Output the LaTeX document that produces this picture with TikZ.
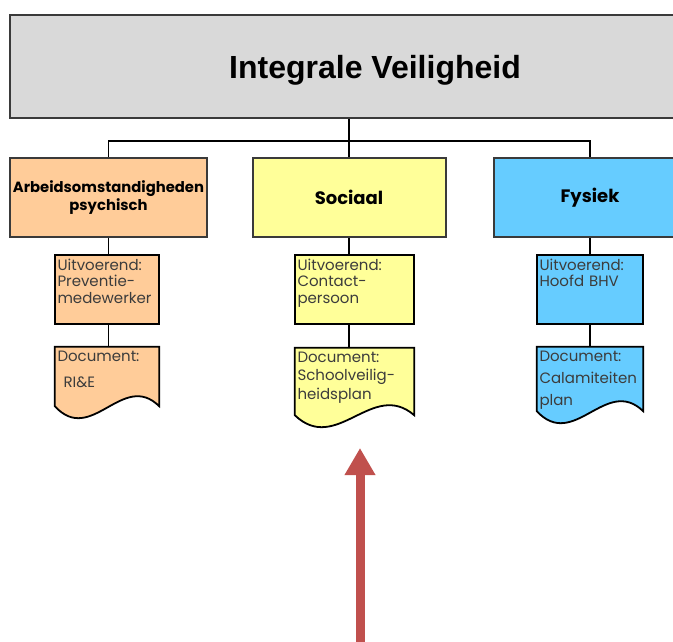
\documentclass[tikz,border=0pt]{standalone}
\usepackage{fontspec}
\setmainfont{Poppins}
\newfontfamily\titelfont{Liberation Sans}
\usetikzlibrary{positioning,calc,backgrounds,arrows.meta}
\definecolor{grijs}{HTML}{D9D9D9}
\definecolor{oranje}{HTML}{FFCC99}
\definecolor{geel}{HTML}{FFFF99}
\definecolor{blauw}{HTML}{66CCFF}
\definecolor{rood}{HTML}{C0504D}
\definecolor{rand}{HTML}{3A3A3A}
\definecolor{tekst}{HTML}{3C3C3C}
% tekst bovenaan in een vak
\newcommand{\vak}[2]{\parbox[t][#1][t]{\linewidth}{\raggedright #2}}
% documentvorm met golvende onderkant
\newcommand{\golf}[2]{%
    \begin{scope}[on background layer]
        \draw[line width=1.8pt,draw=black,fill=#2] (#1.south west) -- (#1.north west) -- (#1.north east) -- (#1.south east)
            .. controls ($(#1.south east)!0.35!(#1.south west)+(0,36)$) and ($(#1.south west)!0.35!(#1.south east)+(0,-40)$) .. (#1.south west) -- cycle;
    \end{scope}}
\tikzset{
    hoofd/.style={draw=rand,line width=2pt,fill=grijs,minimum width=730,minimum height=103,text depth=0pt,font=\titelfont\bfseries\fontsize{32}{38}\selectfont},
    domein/.style={draw=rand,line width=2pt,minimum width=193,minimum height=79,align=center,font=\bfseries\fontsize{18}{20}\selectfont},
    uitv/.style={draw=black,line width=1.8pt,inner xsep=2.5pt,inner ysep=4pt,text=tekst,font=\fontsize{15}{16.5}\selectfont},
    docvak/.style={inner xsep=2.5pt,inner ysep=4pt,text=tekst,font=\fontsize{15}{16.5}\selectfont},
}

\begin{document}
\begin{tikzpicture}[x=1pt,y=1pt,lijn/.style={draw=black,line width=1.6pt},pijl/.style={draw=rood,line width=9pt,-{Triangle[width=29pt,length=27pt]}}]
        \useasboundingbox (0,0) rectangle (673,-642);
        \node[hoofd] (iv) at (375,-66.5) {Integrale Veiligheid};

        \node[domein,fill=oranje,font=\bfseries\fontsize{14.8}{18}\selectfont] (a1) at (108.5,-197.5) {Arbeidsomstandigheden\\psychisch};
        \node[domein,fill=geel] (s1) at (349,-197.5) {Sociaal};
        \node[domein,fill=blauw] (f1) at (590,-197.5) {Fysiek};

        \node[uitv,fill=oranje,text width=99] (u1) [below = 16pt of a1, xshift=-1.5]{\vak{61pt}{Uitvoerend:\\ Preventie-\\ medewerker}};
        \node[uitv,fill=geel,text width=114] (u2) [below = 16pt of s1, xshift=5.5]{\vak{61pt}{Uitvoerend:\\ Contact-\\ persoon}};
        \node[uitv,fill=blauw,text width=101] (u3) [below = 16pt of f1]{\vak{61pt}{Uitvoerend:\\ Hoofd BHV}};

        \node[docvak,text width=99] (d1) [below = 22pt of u1]{\vak{51pt}{Document:\\[10pt]\hspace*{6pt}RI\&E}};
        \node[docvak,text width=114] (d2) [below = 23pt of u2]{\vak{59pt}{\baselineskip=18.5pt Document:\\ Schoolveilig-\\ heidsplan}};
        \node[docvak,text width=101] (d3) [below = 22pt of u3]{\vak{56pt}{\baselineskip=22pt Document:\\ Calamiteiten\\ plan}};
        \golf{d1}{oranje}
        \golf{d2}{geel}
        \golf{d3}{blauw}

        \coordinate (voet) at (360,-660);
        \coordinate (punt) at (360,-448);

        \path[lijn]
            (iv.south -| s1.north) edge (s1.north)
            (a1.south) edge (a1.south |- u1.north)
            (s1.south) edge (s1.south |- u2.north)
            (f1.south) edge (u3.north)
            (u1.south -| a1.south) edge (d1.north -| a1.south)
            (u2.south -| s1.south) edge (d2.north -| s1.south)
            (u3.south) edge (d3.north)
            ;
        \draw[lijn] (a1.north) -- ++(0,16) -| (f1.north);
        \draw[pijl] (voet) -- (punt);
\end{tikzpicture}
\end{document}
